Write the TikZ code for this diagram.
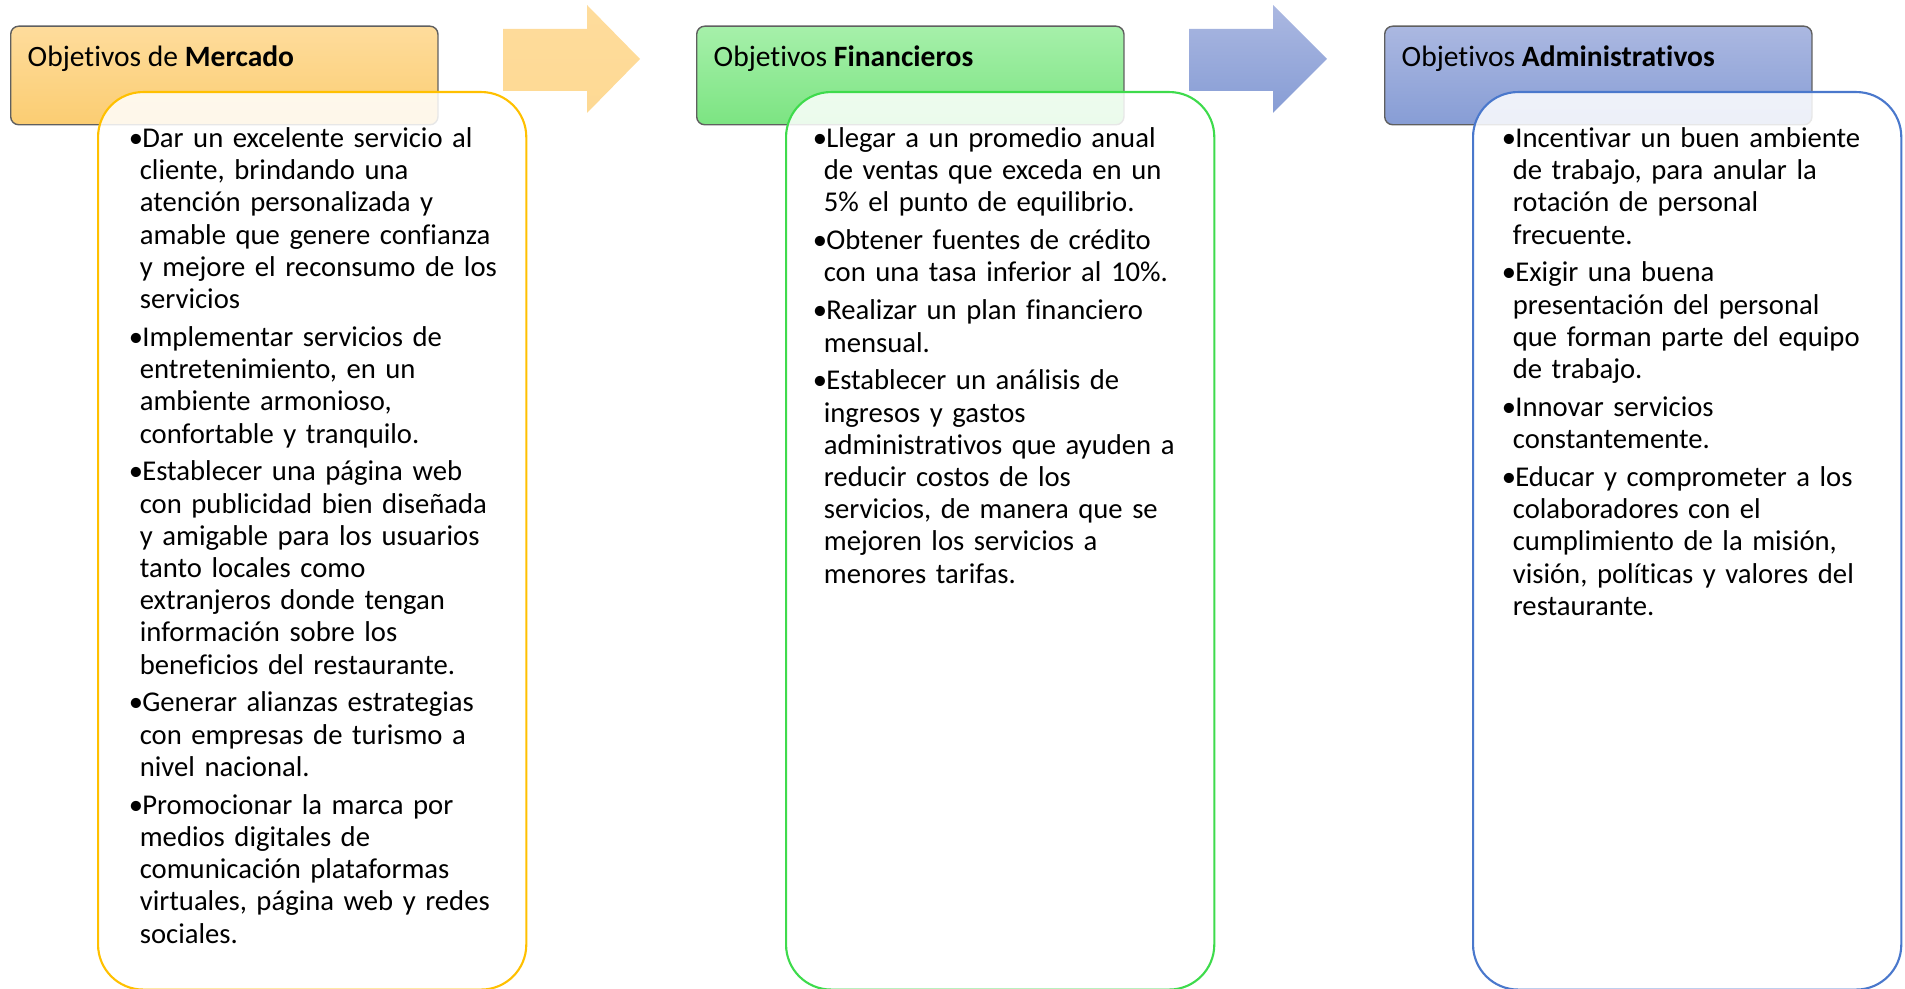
\documentclass[tikz,border=0pt]{standalone}
\usepackage{fontspec}
\setmainfont{Carlito}[Ligatures=NoCommon]

\definecolor{mktTop}{HTML}{FEDC9C}
\definecolor{mktBot}{HTML}{FBCD72}
\definecolor{mktLine}{HTML}{FFC000}
\definecolor{finTop}{HTML}{A6F0AA}
\definecolor{finBot}{HTML}{7CE482}
\definecolor{finLine}{HTML}{3EDB4C}
\definecolor{admTop}{HTML}{ABB8E1}
\definecolor{admBot}{HTML}{879DD5}
\definecolor{admLine}{HTML}{4A78CC}
\definecolor{hdrLine}{HTML}{5F5F5F}

\newlength\bulw
\setlength\bulw{2.6pt}
\newcommand\obj[1]{\hangindent=\bulw\hangafter=1\noindent\makebox[3.3pt][l]{\kern-0.5pt\textbullet}#1\par}

\begin{document}
\begin{tikzpicture}[
  x=0.01cm, y=-0.01cm,
  hdr/.style={
    rectangle, rounded corners=0.08cm, draw=hdrLine, line width=0.4pt,
    minimum width=4.27cm, minimum height=0.985cm, anchor=north west,
    inner sep=0pt
  },
  hdrtext/.style={anchor=base west, inner sep=0pt, font=\fontsize{8.4}{10}\selectfont},
  body/.style={
    rectangle, rounded corners=0.45cm, fill=white, fill opacity=0.85,
    line width=0.6pt, minimum width=4.28cm, minimum height=8.97cm,
    anchor=north west, inner sep=0pt
  },
  items/.style={
    anchor=base west, inner sep=0pt, text width=4.5cm,
    font=\fontsize{8.15}{9.16}\selectfont,
    execute at begin node={\setlength{\parskip}{1.6pt}}
  },
  arrowshape/.style={draw=none},
]
\useasboundingbox (0,0) rectangle (1905,989);

% Market objectives (left)
\node[hdr, top color=mktTop, bottom color=mktBot] (hMkt) at (10,25.5) {};
\node[hdrtext] (tMkt) at (27,67) {Objetivos de \textbf{Mercado}};
\node[body, draw=mktLine] (bMkt) at (97,91) {};
\node[items] (lMkt) at (130,147.5) {%
\obj{Dar un excelente servicio al\newline cliente, brindando una\newline atención personalizada y\newline amable que genere confianza\newline y mejore el reconsumo de los\newline servicios}
\obj{Implementar servicios de\newline entretenimiento, en un\newline ambiente armonioso,\newline confortable y tranquilo.}
\obj{Establecer una página web\newline con publicidad bien diseñada\newline y amigable para los usuarios\newline tanto locales como\newline extranjeros donde tengan\newline información sobre los\newline beneficios del restaurante.}
\obj{Generar alianzas estrategias\newline con empresas de turismo a\newline nivel nacional.}
\obj{Promocionar la marca por\newline medios digitales de\newline comunicación plataformas\newline virtuales, página web y redes\newline sociales.}};

\shade[arrowshape, top color=mktTop, bottom color=mktTop!80!mktBot]
  (503,29) -- (587,29) -- (587,5) -- (640,59) -- (587,113) -- (587,91) -- (503,91) -- cycle;

% Financial objectives (middle)
\node[hdr, top color=finTop, bottom color=finBot] (hFin) at (696,25.5) {};
\node[hdrtext] (tFin) at (713,67) {Objetivos \textbf{Financieros}};
\node[body, draw=finLine] (bFin) at (785,91) {};
\node[items] (lFin) at (814,147.5) {%
\obj{Llegar a un promedio anual\newline de ventas que exceda en un\newline 5\% el punto de equilibrio.}
\obj{Obtener fuentes de crédito\newline con una tasa inferior al 10\%.}
\obj{Realizar un plan financiero\newline mensual.}
\obj{Establecer un análisis de\newline ingresos y gastos\newline administrativos que ayuden a\newline reducir costos de los\newline servicios, de manera que se\newline mejoren los servicios a\newline menores tarifas.}};

\shade[arrowshape, top color=admTop, bottom color=admBot]
  (1189,29) -- (1273,29) -- (1273,5) -- (1327,59) -- (1273,113) -- (1273,91) -- (1189,91) -- cycle;

% Administrative objectives (right)
\node[hdr, top color=admTop, bottom color=admBot] (hAdm) at (1384,25.5) {};
\node[hdrtext] (tAdm) at (1401,67) {Objetivos \textbf{Administrativos}};
\node[body, draw=admLine] (bAdm) at (1472,91) {};
\node[items] (lAdm) at (1503,147.5) {%
\obj{Incentivar un buen ambiente\newline de trabajo, para anular la\newline rotación de personal\newline frecuente.}
\obj{Exigir una buena\newline presentación del personal\newline que forman parte del equipo\newline de trabajo.}
\obj{Innovar servicios\newline constantemente.}
\obj{Educar y comprometer a los\newline colaboradores con el\newline cumplimiento de la misión,\newline visión, políticas y valores del\newline restaurante.}};

\end{tikzpicture}
\end{document}
